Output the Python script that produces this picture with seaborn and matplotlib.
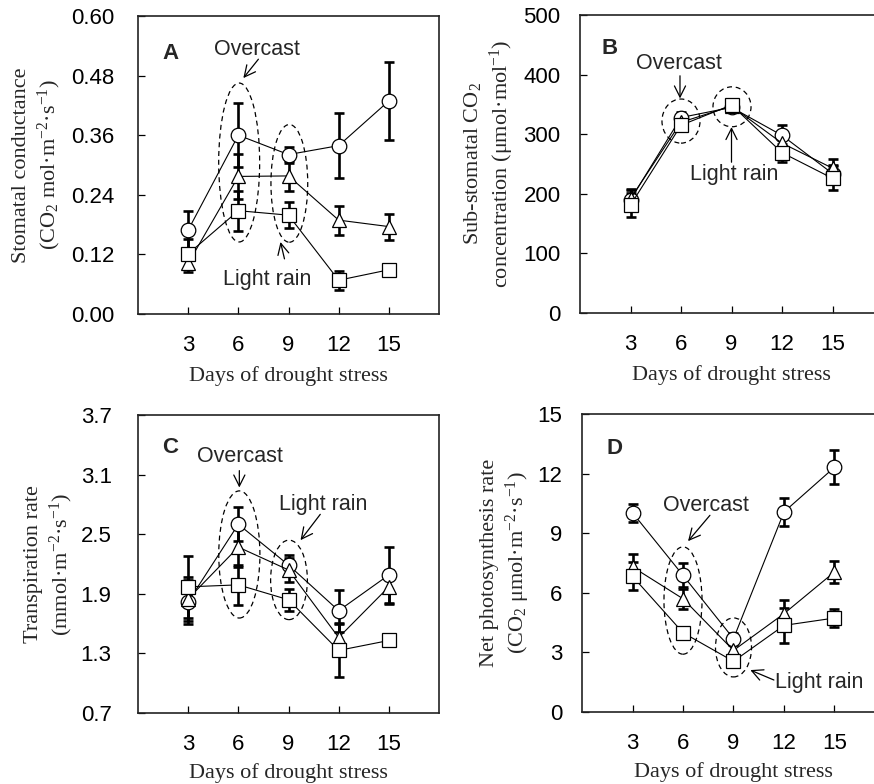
import numpy as np
import pandas as pd
import matplotlib
matplotlib.use("Agg")
import matplotlib.pyplot as plt
from matplotlib.patches import Ellipse
import seaborn as sns

# ---------------- data ----------------
days = [3, 6, 9, 12, 15]
series_names = ["circle", "triangle", "square"]

# A: stomatal conductance
gs_circle = [0.169, 0.360, 0.321, 0.339, 0.429]
gs_circle_err = [0.038, 0.065, 0.016, 0.066, 0.078]
gs_triangle = [0.102, 0.277, 0.278, 0.189, 0.176]
gs_triangle_err = [0.017, 0.045, 0.030, 0.029, 0.026]
gs_square = [0.121, 0.208, 0.199, 0.068, 0.089]
gs_square_err = [0.030, 0.040, 0.026, 0.019, 0.005]

# B: sub-stomatal CO2
ci_circle = [190, 328, 345, 298, 234]
ci_circle_err = [18, 10, 8, 18, 15]
ci_triangle = [192, 320, 347, 285, 243]
ci_triangle_err = [15, 8, 8, 12, 15]
ci_square = [181, 315, 349, 269, 226]
ci_square_err = [20, 8, 8, 15, 20]

# C: transpiration rate
tr_circle = [1.82, 2.60, 2.19, 1.73, 2.09]
tr_circle_err = [0.22, 0.17, 0.10, 0.21, 0.28]
tr_triangle = [1.85, 2.37, 2.14, 1.46, 1.97]
tr_triangle_err = [0.22, 0.20, 0.12, 0.15, 0.17]
tr_square = [1.97, 1.99, 1.84, 1.33, 1.43]
tr_square_err = [0.31, 0.20, 0.11, 0.27, 0.04]

# D: net photosynthesis rate
pn_circle = [10.03, 6.88, 3.69, 10.07, 12.32]
pn_circle_err = [0.45, 0.60, 0.30, 0.70, 0.85]
pn_triangle = [7.30, 5.70, 3.10, 4.95, 7.05]
pn_triangle_err = [0.65, 0.50, 0.30, 0.70, 0.55]
pn_square = [6.83, 3.99, 2.55, 4.36, 4.73]
pn_square_err = [0.71, 0.20, 0.20, 0.87, 0.45]

xlabel = "Days of drought stress"
ylabels = {
    "A": "Stomatal conductance\n(CO$_2$ mol·m$^{-2}$·s$^{-1}$)",
    "B": "Sub-stomatal CO$_2$\nconcentration (μmol·mol$^{-1}$)",
    "C": "Transpiration rate\n(mmol·m$^{-2}$·s$^{-1}$)",
    "D": "Net photosynthesis rate\n(CO$_2$ μmol·m$^{-2}$·s$^{-1}$)",
}
yticks = {
    "A": [0.00, 0.12, 0.24, 0.36, 0.48, 0.60],
    "B": [0, 100, 200, 300, 400, 500],
    "C": [0.7, 1.3, 1.9, 2.5, 3.1, 3.7],
    "D": [0, 3, 6, 9, 12, 15],
}
ytick_fmt = {"A": "{:.2f}", "B": "{:.0f}", "C": "{:.1f}", "D": "{:.0f}"}

# ---------------- style ----------------
sns.set_style("ticks")
plt.rcParams["font.family"] = ["Liberation Sans", "DejaVu Sans"]
plt.rcParams["mathtext.fontset"] = "custom"
plt.rcParams["mathtext.rm"] = "Liberation Serif"
plt.rcParams["mathtext.it"] = "Liberation Serif:italic"
plt.rcParams["mathtext.bf"] = "Liberation Serif:bold"

fig = plt.figure(figsize=(8.74, 7.84), dpi=100)
W, H = 874, 784

def axes_px(left, top, width, height):
    return fig.add_axes([left / W, (H - top - height) / H, width / W, height / H])

ax_pos = {
    "A": (138, 16, 301, 298),
    "B": (580, 15, 303, 298),
    "C": (138, 415, 301, 298),
    "D": (582, 414, 303, 298),
}
ylab_x = {"A": -0.335, "B": -0.300, "C": -0.295, "D": -0.250}
ytick_pad = {"A": 17, "B": 14, "C": 19, "D": 14}
xlab_pad = {"A": 7.5, "B": 7.5, "C": 6, "D": 6}

panel_data = {
    "A": (gs_circle, gs_circle_err, gs_triangle, gs_triangle_err, gs_square, gs_square_err),
    "B": (ci_circle, ci_circle_err, ci_triangle, ci_triangle_err, ci_square, ci_square_err),
    "C": (tr_circle, tr_circle_err, tr_triangle, tr_triangle_err, tr_square, tr_square_err),
    "D": (pn_circle, pn_circle_err, pn_triangle, pn_triangle_err, pn_square, pn_square_err),
}
marker_map = {"circle": "o", "triangle": "^", "square": "s"}
msize = {"circle": 10.5, "triangle": 10.5, "square": 10}

axes = {}
for key in ["A", "B", "C", "D"]:
    ax = axes_px(*ax_pos[key])
    axes[key] = ax
    c, ce, t, te, s, se = panel_data[key]
    df = pd.DataFrame({
        "day": days * 3,
        "value": list(c) + list(t) + list(s),
        "err": list(ce) + list(te) + list(se),
        "series": ["circle"] * 5 + ["triangle"] * 5 + ["square"] * 5,
    })
    # error bars (behind markers)
    for name in series_names:
        sub = df[df["series"] == name]
        ax.errorbar(sub["day"], sub["value"], yerr=sub["err"], fmt="none",
                    ecolor="black", elinewidth=1.9, capsize=3.8, capthick=1.9,
                    zorder=1.5)
    for i, name in enumerate(["circle", "triangle", "square"]):
        sub = df[df["series"] == name]
        sns.lineplot(data=sub, x="day", y="value", ax=ax, color="black",
                     linewidth=0.8, marker=marker_map[name],
                     markersize=msize[name], markerfacecolor="white",
                     markeredgecolor="black", markeredgewidth=0.9,
                     legend=False, errorbar=None, zorder=3 + i)
    yt = yticks[key]
    ax.set_xlim(0, 18)
    ax.set_ylim(yt[0], yt[-1])
    ax.set_xticks(days)
    ax.set_xticklabels([str(d) for d in days])
    ax.set_yticks(yt)
    ax.set_yticklabels([ytick_fmt[key].format(v) for v in yt])
    ax.tick_params(axis="both", direction="in", length=5, width=0.9,
                   labelsize=16, colors="black")
    ax.tick_params(axis="x", pad=15)
    ax.tick_params(axis="y", pad=ytick_pad[key])
    for sp in ax.spines.values():
        sp.set_visible(True)
        sp.set_linewidth(1.2)
        sp.set_color("#222222")
    ax.set_xlabel(xlabel, fontsize=16, family="Liberation Serif",
                  labelpad=xlab_pad[key])
    ax.set_ylabel("")
    ax.text(ylab_x[key], 0.5, ylabels[key], transform=ax.transAxes,
            rotation=90, ha="center", va="center", fontsize=16,
            family="Liberation Serif", linespacing=1.25)
    ax.grid(False)

def ell(ax, xy, w, h):
    ax.add_patch(Ellipse(xy, w, h, fill=False, linestyle=(0, (4, 3)),
                         linewidth=0.9, edgecolor="black", zorder=6))

def arrow(ax, tail, head):
    ax.annotate("", xy=head, xytext=tail,
                arrowprops=dict(arrowstyle="->", lw=0.9, color="black",
                                mutation_scale=20, shrinkA=0, shrinkB=0))

def label(ax, xy, text):
    ax.text(xy[0], xy[1], text, ha="center", va="center", fontsize=15.5)

def letter(ax, xy, text):
    ax.text(xy[0], xy[1], text, fontsize=16, fontweight="bold",
            ha="center", va="center")

# Panel A
ax = axes["A"]
letter(ax, (1.92, 0.525), "A")
ell(ax, (6.05, 0.305), 2.45, 0.32)
ell(ax, (9.05, 0.263), 2.2, 0.237)
label(ax, (7.1, 0.532), "Overcast")
arrow(ax, (7.2, 0.513), (6.3, 0.475))
label(ax, (7.74, 0.070), "Light rain")
arrow(ax, (8.76, 0.111), (8.52, 0.145))

# Panel B
ax = axes["B"]
letter(ax, (1.78, 444), "B")
ell(ax, (6.0, 322), 2.26, 74)
ell(ax, (9.03, 346), 2.26, 67)
label(ax, (5.88, 418), "Overcast")
arrow(ax, (5.94, 398), (5.94, 360))
label(ax, (9.15, 233), "Light rain")
arrow(ax, (9.0, 253), (9.0, 312))

# Panel C
ax = axes["C"]
letter(ax, (1.92, 3.37), "C")
ell(ax, (6.06, 2.296), 2.46, 1.28)
ell(ax, (9.03, 2.04), 2.2, 0.8)
label(ax, (6.12, 3.28), "Overcast")
arrow(ax, (6.06, 3.14), (6.06, 2.97))
label(ax, (11.1, 2.80), "Light rain")
arrow(ax, (10.9, 2.70), (9.72, 2.44))

# Panel D
ax = axes["D"]
letter(ax, (1.96, 13.25), "D")
ell(ax, (6.0, 5.61), 2.26, 5.4)
ell(ax, (9.0, 3.25), 2.14, 2.97)
label(ax, (7.37, 10.4), "Overcast")
arrow(ax, (7.6, 9.9), (6.3, 8.6))
label(ax, (14.1, 1.51), "Light rain")
arrow(ax, (11.4, 1.61), (10.0, 2.11))

fig.savefig("out.png", dpi=100)
